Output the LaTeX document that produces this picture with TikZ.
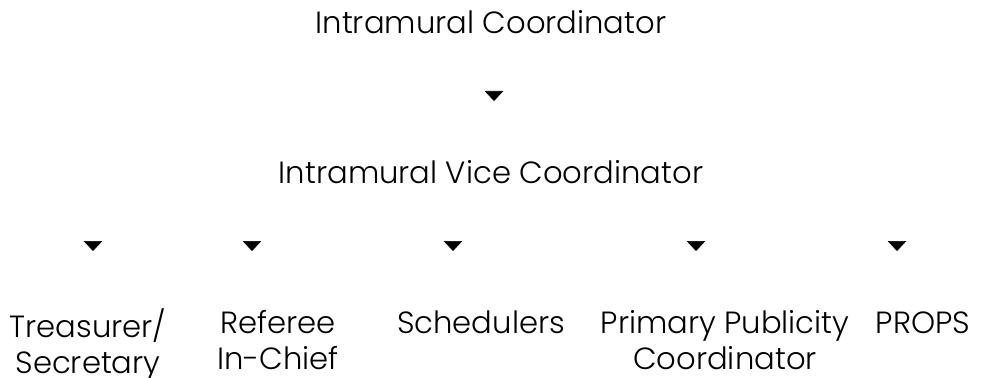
\documentclass[tikz,border=0pt]{standalone}
\usepackage{fontspec}
\setmainfont{Poppins}[UprightFont=* Light]
\usetikzlibrary{arrows.meta,positioning}
\tikzset{
  role/.style={inner sep=0pt, align=center, font=\fontsize{23}{27}\selectfont},
  link/.style={white, line width=0.4pt, -{Triangle[width=14pt,length=7.5pt,black]}},
}

\begin{document}
\begin{tikzpicture}[x=0.75pt,y=0.75pt,yscale=-1,xscale=1]
\path[use as bounding box] (0,0) rectangle (982,378);

%Text Nodes
\node[role,anchor=base] (coord) at (491,34) {Intramural Coordinator};
\node[role,anchor=base] (vice) at (491,183) {Intramural Vice Coordinator};
\node[role,anchor=north] (treas) at (88,308.5) {\strut Treasurer/\\Secretary};
\node[role,anchor=north] (referee) at (278,308.5) {\strut Referee\\In-Chief};
\node[role,anchor=north] (sched) at (481,308.5) {\strut Schedulers};
\node[role,anchor=north] (publ) at (725,308.5) {\strut Primary Publicity\\Coordinator};
\node[role,anchor=north] (props) at (923,308.5) {\strut PROPS};

%Tip points
\coordinate (t0) at (494,101);
\coordinate (t1) at (93,251);
\coordinate (t2) at (252,251);
\coordinate (t3) at (453,251);
\coordinate (t4) at (696,251);
\coordinate (t5) at (897,251);

%Connectors
\draw[link] (coord.south -| t0) -- (t0);
\draw[link] (vice.south -| t1) -- (t1);
\draw[link] (vice.south -| t2) -- (t2);
\draw[link] (vice.south -| t3) -- (t3);
\draw[link] (vice.south -| t4) -- (t4);
\draw[link] (vice.south -| t5) -- (t5);
\end{tikzpicture}
\end{document}
